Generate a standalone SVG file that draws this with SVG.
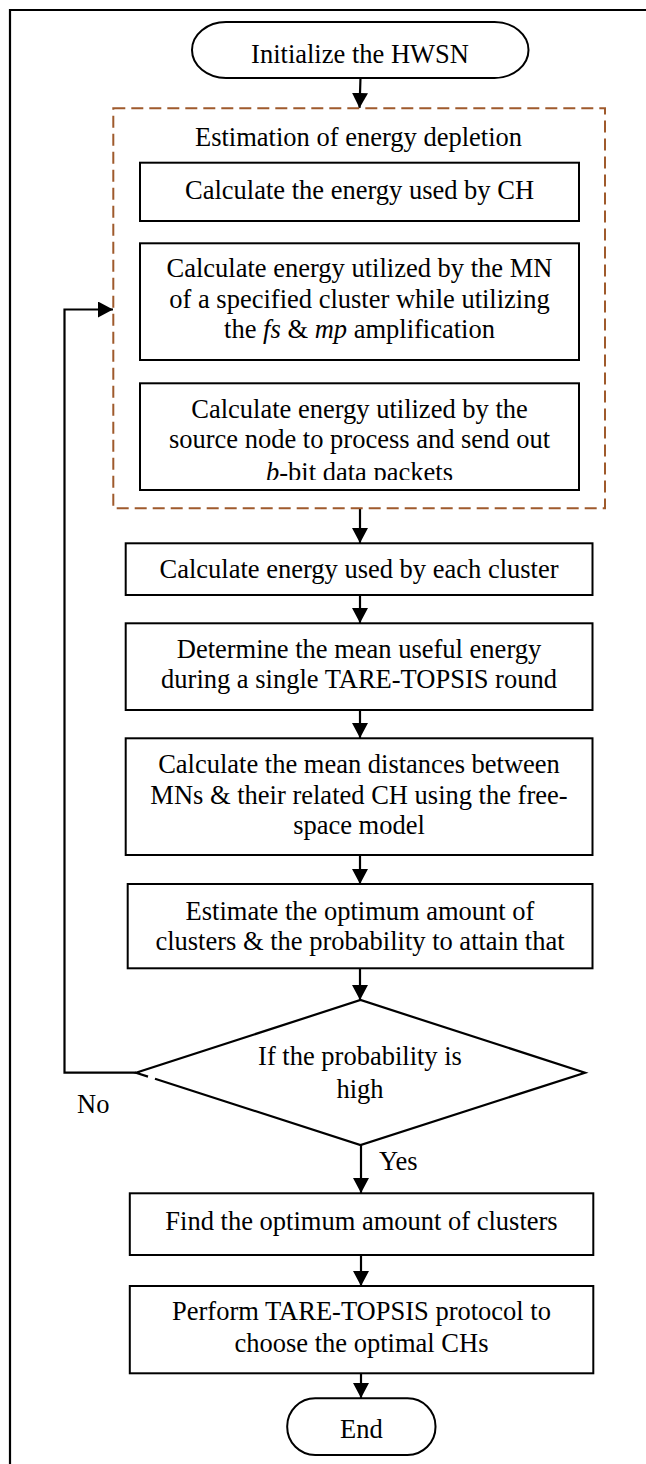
<svg xmlns="http://www.w3.org/2000/svg" width="646" height="1464" viewBox="0 0 646 1464">
<style>
.box{fill:#fff;stroke:#000;stroke-width:2}
.dash{fill:none;stroke:#9F5A2C;stroke-width:2;stroke-dasharray:12 6}
.frame{fill:none;stroke:#000;stroke-width:2.2}
.t{font-family:"Liberation Serif","Times New Roman",serif;font-size:26.5px;fill:#000;text-anchor:middle}
.l{font-family:"Liberation Serif","Times New Roman",serif;font-size:26.5px;fill:#000}
.i{font-style:italic}
.c{fill:none;stroke:#000;stroke-width:2.2}
</style>
<defs>
<marker id="ah" markerUnits="userSpaceOnUse" markerWidth="16" markerHeight="16" refX="15" refY="8" orient="auto" viewBox="0 0 16 16">
<path d="M0,0 L15,8 L0,16 Z" fill="#000"/>
</marker>
<clipPath id="clipb"><rect x="130" y="450" width="460" height="30"/></clipPath>
</defs>
<g id="frame">
<path class="frame" d="M10,1464 V10 H646"/>
</g>
<g id="connectors">
<line class="c" x1="360.5" y1="78" x2="359.5" y2="108" marker-end="url(#ah)"/>
<line class="c" x1="360" y1="508.5" x2="360" y2="543" marker-end="url(#ah)"/>
<line class="c" x1="360" y1="595" x2="360" y2="623" marker-end="url(#ah)"/>
<line class="c" x1="360" y1="710" x2="360" y2="738" marker-end="url(#ah)"/>
<line class="c" x1="360" y1="855" x2="360" y2="884" marker-end="url(#ah)"/>
<line class="c" x1="360" y1="968.5" x2="360" y2="1000" marker-end="url(#ah)"/>
<line class="c" x1="361" y1="1145" x2="361" y2="1193" marker-end="url(#ah)"/>
<line class="c" x1="361" y1="1255" x2="361" y2="1286" marker-end="url(#ah)"/>
<line class="c" x1="361" y1="1373.5" x2="361" y2="1398" marker-end="url(#ah)"/>
<path class="c" d="M136,1072.7 H64.5 V309.5 H113" marker-end="url(#ah)"/>
<text class="l" x="77" y="1112.5">No</text>
<text class="l" x="379" y="1170">Yes</text>
</g>
<g id="start">
<rect class="box" x="192" y="22" width="336.5" height="56" rx="34" ry="28"/>
<text class="t" x="360" y="62.7">Initialize the HWSN</text>
</g>
<g id="energy-group">
<rect class="dash" x="113.3" y="108.3" width="491.7" height="400"/>
<text class="t" x="358.5" y="145.7">Estimation of energy depletion</text>
</g>
<g id="n1">
<rect class="box" x="140" y="162.7" width="439" height="58.3"/>
<text class="t" x="359.5" y="199">Calculate the energy used by CH</text>
</g>
<g id="n2">
<rect class="box" x="140" y="243.3" width="439" height="116.7"/>
<text class="t" x="359.5" y="277.3">Calculate energy utilized by the MN</text>
<text class="t" x="359.5" y="307.7">of a specified cluster while utilizing</text>
<text class="t" x="359.5" y="338.3">the <tspan class="i">fs</tspan> &amp; <tspan class="i">mp</tspan> amplification</text>
</g>
<g id="n3">
<rect class="box" x="140" y="383.3" width="439" height="106.7"/>
<text class="t" x="359.5" y="418.3">Calculate energy utilized by the</text>
<text class="t" x="359.5" y="448.3">source node to process and send out</text>
<text class="t" x="359.5" y="480.5" clip-path="url(#clipb)"><tspan class="i">b</tspan>-bit data packets</text>
</g>
<g id="n4">
<rect class="box" x="125.7" y="543.3" width="466.8" height="51.7"/>
<text class="t" x="359" y="578.3">Calculate energy used by each cluster</text>
</g>
<g id="n5">
<rect class="box" x="125.7" y="623.3" width="466.8" height="86.7"/>
<text class="t" x="359" y="658.3">Determine the mean useful energy</text>
<text class="t" x="359" y="688.3">during a single TARE-TOPSIS round</text>
</g>
<g id="n6">
<rect class="box" x="125.7" y="738.3" width="466.8" height="116.7"/>
<text class="t" x="359" y="773.3">Calculate the mean distances between</text>
<text class="t" x="359" y="803.8">MNs &amp; their related CH using the free-</text>
<text class="t" x="359" y="834.3">space model</text>
</g>
<g id="n7">
<rect class="box" x="127.7" y="884" width="464.8" height="84.3"/>
<text class="t" x="360" y="920">Estimate the optimum amount of</text>
<text class="t" x="360" y="950">clusters &amp; the probability to attain that</text>
</g>
<g id="decision">
<path class="c" fill="#fff" d="M155,1078.8 L360.5,1145 L585,1072.7 L360.5,1000 L136,1072.7 L148,1076.6"/>
<text class="t" x="360" y="1065">If the probability is</text>
<text class="t" x="360" y="1098.3">high</text>
</g>
<g id="n8">
<rect class="box" x="129.8" y="1193.3" width="463.5" height="61.7"/>
<text class="t" x="361.5" y="1230">Find the optimum amount of clusters</text>
</g>
<g id="n9">
<rect class="box" x="129.8" y="1286" width="463.5" height="87.3"/>
<text class="t" x="361.5" y="1320">Perform TARE-TOPSIS protocol to</text>
<text class="t" x="361.5" y="1351.5">choose the optimal CHs</text>
</g>
<g id="end">
<rect class="box" x="287.2" y="1398.3" width="148.3" height="56.7" rx="28" ry="28"/>
<text class="t" x="361.4" y="1438.3">End</text>
</g>
</svg>
